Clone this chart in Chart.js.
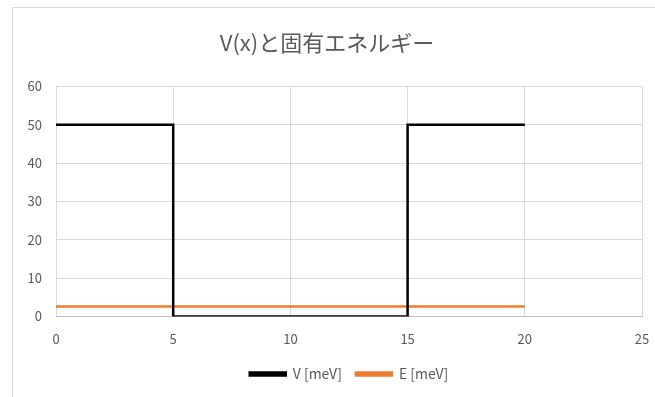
<!DOCTYPE html>
<html>
<head>
<meta charset="utf-8">
<script src="https://cdn.jsdelivr.net/npm/chart.js@4"></script>
<style>
  html, body { margin: 0; padding: 0; background: #fff; }
  #wrap { width: 655px; height: 397px; position: relative; }
</style>
</head>
<body>
<div id="wrap"><canvas id="c" width="655" height="397"></canvas></div>
<script>
// Square well potential V(x) and the eigen-energy level E
const titleText = 'V(x)と固有エネルギー';
const seriesNames = ['V [meV]', 'E [meV]'];
const vX = [0, 5, 5, 15, 15, 20];
const vY = [50, 50, 0, 0, 50, 50];
const eX = [0, 20];
const eY = [2.6, 2.6];
const xTicks = [0, 5, 10, 15, 20, 25];
const yTicks = [0, 10, 20, 30, 40, 50, 60];

const toPoints = (xs, ys) => xs.map((x, i) => ({ x: x, y: ys[i] }));

const gray = '#595959';
const gridColor = '#d9d9d9';
const font = '"Noto Sans CJK JP", "Noto Sans", sans-serif';

// Thin outer frame around the chart object
const framePlugin = {
  id: 'frame',
  beforeDraw(chart) {
    const ctx = chart.ctx;
    ctx.save();
    ctx.fillStyle = '#fff';
    ctx.fillRect(0, 0, chart.width, chart.height);
    ctx.strokeStyle = '#d9d9d9';
    ctx.lineWidth = 1;
    ctx.beginPath();
    ctx.moveTo(12.5, chart.height);
    ctx.lineTo(12.5, 7.5);
    ctx.lineTo(chart.width, 7.5);
    ctx.stroke();
    ctx.restore();
  }
};

new Chart(document.getElementById('c'), {
  type: 'line',
  data: {
    datasets: [
      {
        label: seriesNames[0],
        data: toPoints(vX, vY),
        borderColor: '#000000',
        backgroundColor: '#000000',
        borderWidth: 2.5,
        pointRadius: 0,
        tension: 0,
        fill: false
      },
      {
        label: seriesNames[1],
        data: toPoints(eX, eY),
        borderColor: '#ED7D31',
        backgroundColor: '#ED7D31',
        borderWidth: 2.5,
        pointRadius: 0,
        tension: 0,
        fill: false
      }
    ]
  },
  options: {
    responsive: false,
    animation: false,
    layout: { padding: { left: 12, right: 13, top: 0, bottom: 6 } },
    plugins: {
      title: {
        display: true,
        text: titleText,
        color: gray,
        font: { family: font, size: 22, weight: 'normal' },
        padding: { top: 29, bottom: 31 }
      },
      legend: {
        position: 'bottom',
        fullSize: false,
        labels: {
          color: gray,
          font: { family: font, size: 14 },
          boxWidth: 36,
          boxHeight: 3,
          padding: 14
        }
      },
      tooltip: { enabled: false }
    },
    scales: {
      x: {
        type: 'linear',
        min: 0,
        max: 25,
        afterBuildTicks(axis) { axis.ticks = xTicks.map(v => ({ value: v })); },
        afterFit(axis) {
          axis.paddingLeft = 0;
          axis.paddingRight = 0;
          axis.height = axis.height - 9;
        },
        ticks: { color: gray, font: { family: font, size: 13 }, padding: 15 },
        grid: { color: gridColor, drawTicks: false },
        border: { color: '#bfbfbf' }
      },
      y: {
        type: 'linear',
        min: 0,
        max: 60,
        afterBuildTicks(axis) { axis.ticks = yTicks.map(v => ({ value: v })); },
        afterFit(axis) { axis.width = 44; },
        ticks: { color: gray, font: { family: font, size: 13 }, padding: 14 },
        grid: { color: gridColor, drawTicks: false },
        border: { display: false }
      }
    }
  },
  plugins: [framePlugin]
});
</script>
</body>
</html>
